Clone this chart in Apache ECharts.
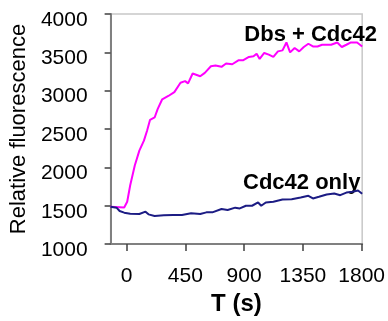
<!DOCTYPE html>
<html><head><meta charset="utf-8">
<script src="https://cdn.jsdelivr.net/npm/echarts@6/dist/echarts.min.js"></script>
<style>html,body{margin:0;padding:0;background:#fff}#c{width:388px;height:321px}</style>
</head><body><div id="c"></div>
<script>
const xTicks = [0, 450, 900, 1350, 1800];
const yTicks = [1000, 1500, 2000, 2500, 3000, 3500, 4000];
const dbsTime = [-123,-18,5,28,63,98,133,157,180,215,238,273,320,366,413,448,471,506,564,599,646,681,727,762,809,856,891,937,972,996,1019,1054,1089,1124,1159,1194,1224,1252,1287,1322,1357,1392,1427,1462,1497,1566,1613,1648,1683,1718,1765,1804];
const dbsValues = [1487,1478,1552,1767,2025,2219,2349,2478,2620,2651,2759,2888,2931,2982,3104,3125,3095,3224,3189,3233,3319,3328,3311,3354,3345,3396,3396,3440,3448,3483,3414,3492,3470,3440,3513,3526,3629,3500,3557,3513,3570,3612,3577,3577,3599,3599,3629,3570,3599,3629,3629,3577];
const cdcTime = [-123,-77,-53,-18,28,98,145,168,215,285,355,424,494,564,611,657,727,774,832,867,914,961,1007,1031,1066,1124,1194,1264,1333,1392,1427,1473,1532,1590,1636,1683,1730,1772,1804];
const cdcValues = [1487,1475,1431,1410,1397,1392,1423,1388,1366,1375,1379,1379,1401,1392,1414,1414,1457,1444,1475,1465,1500,1500,1543,1500,1543,1552,1582,1586,1608,1630,1595,1617,1647,1660,1638,1672,1682,1698,1656];
const seriesNames = ['Dbs + Cdc42', 'Cdc42 only'];
const xTitle = 'T (s)';
const yTitle = 'Relative fluorescence';

const FONT = "'Liberation Sans', Arial, sans-serif";
const chart = echarts.init(document.getElementById('c'), null, {renderer: 'canvas'});
const zip = (a, b) => a.map((t, i) => [t, b[i]]);
chart.setOption({
  animation: false,
  grid: {left: 102, right: 11, top: 14, bottom: 75, show: true, borderColor: '#c8c8c8', borderWidth: 1.5},
  xAxis: {
    type: 'value', min: -122, max: 1804,
    name: xTitle, nameLocation: 'middle', nameGap: 45,
    nameTextStyle: {fontFamily: FONT, fontSize: 24, fontWeight: 'bold', color: '#000'},
    axisLine: {show: true, onZero: false, lineStyle: {color: '#808080', width: 2}},
    axisTick: {show: true, customValues: xTicks, length: 7, lineStyle: {color: '#404040', width: 1.5}},
    axisLabel: {customValues: xTicks, margin: 22, fontFamily: FONT, fontSize: 21, color: '#000', formatter: v => String(v)},
    splitLine: {show: false}
  },
  yAxis: {
    type: 'value', min: 1000, max: 4000, interval: 500,
    name: yTitle, nameLocation: 'middle', nameGap: 75, nameRotate: 90,
    nameTextStyle: {fontFamily: FONT, fontSize: 22, color: '#000'},
    axisLine: {show: true, onZero: false, lineStyle: {color: '#808080', width: 2}},
    axisTick: {show: true, length: 6, lineStyle: {color: '#404040', width: 1.5}},
    axisLabel: {margin: 23, fontFamily: FONT, fontSize: 21, color: '#000', verticalAlign: 'top', lineHeight: 12, formatter: v => String(v)},
    splitLine: {show: false}
  },
  series: [
    {name: seriesNames[0], type: 'line', data: zip(dbsTime, dbsValues), showSymbol: false, lineStyle: {color: '#ff00ff', width: 2}, itemStyle: {color: '#ff00ff'}},
    {name: seriesNames[1], type: 'line', data: zip(cdcTime, cdcValues), showSymbol: false, lineStyle: {color: '#1c1c84', width: 2}, itemStyle: {color: '#1c1c84'}}
  ],
  graphic: [
    {type: 'text', right: 11, top: 24, style: {text: seriesNames[0], font: "bold 22px 'Liberation Sans', Arial", fill: '#000'}},
    {type: 'text', left: 243, top: 172, style: {text: seriesNames[1], font: "bold 22px 'Liberation Sans', Arial", fill: '#000'}}
  ]
});
</script></body></html>
